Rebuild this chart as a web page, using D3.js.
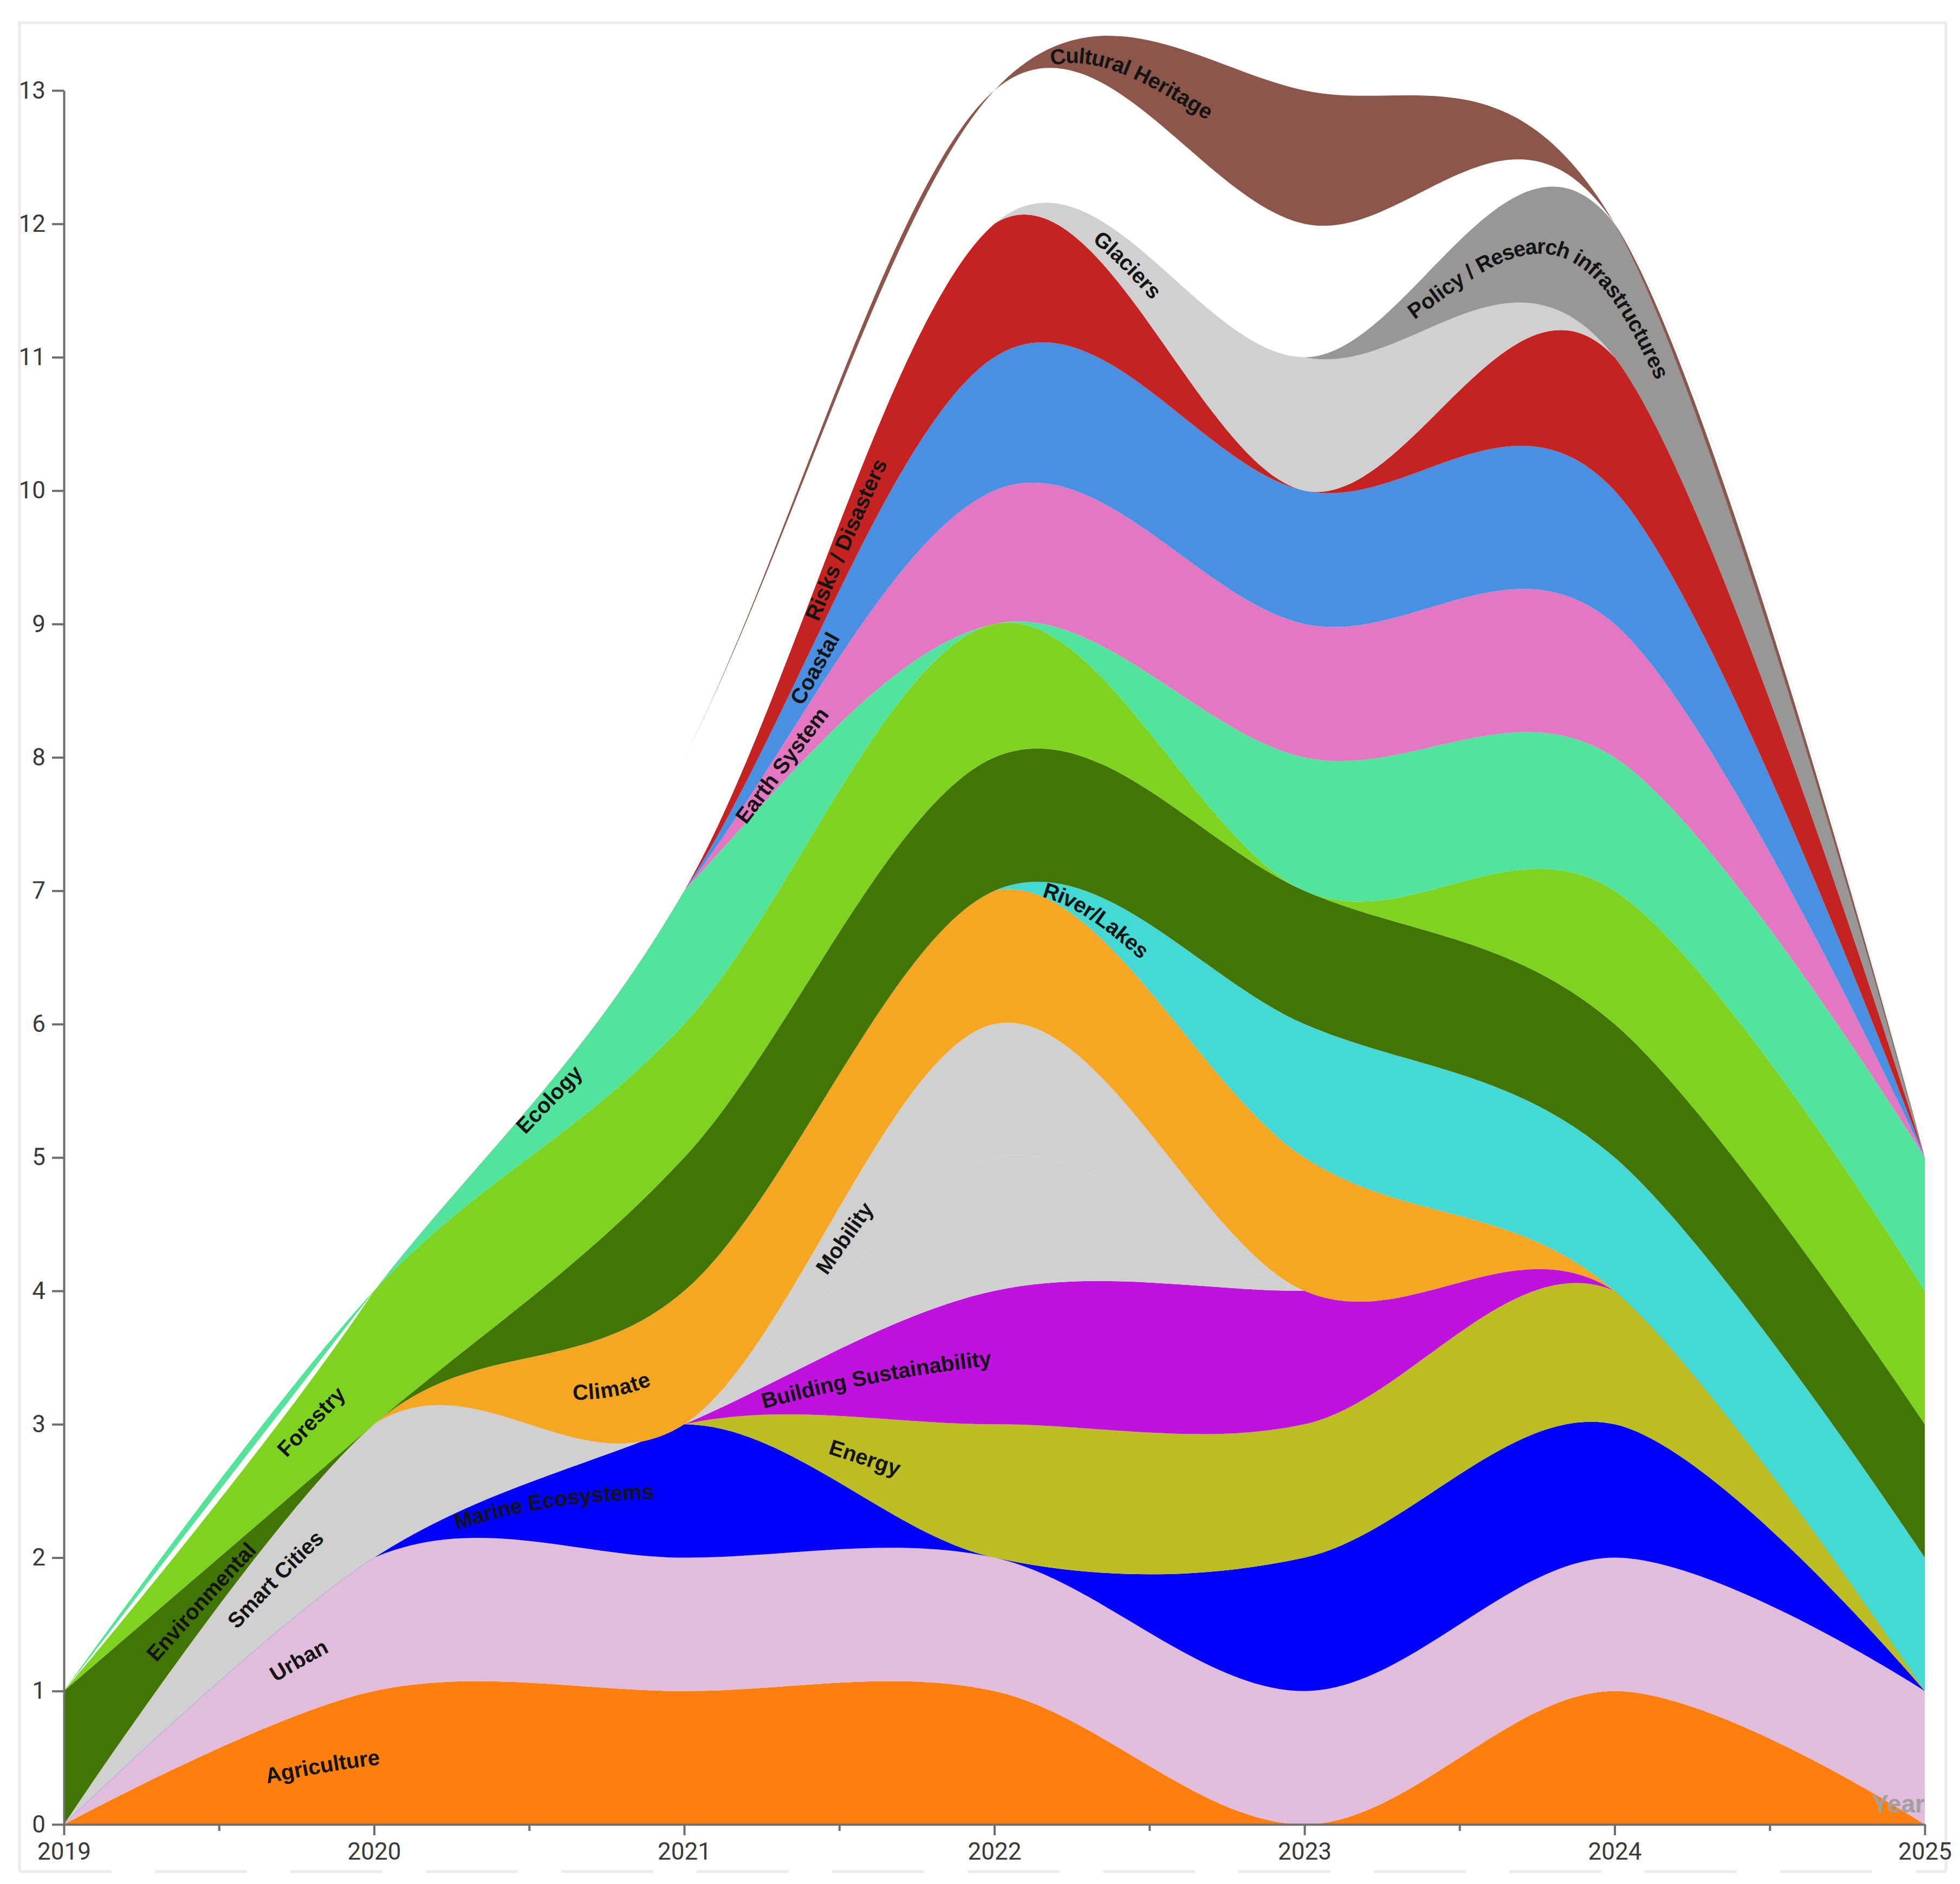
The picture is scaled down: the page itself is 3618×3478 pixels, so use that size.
<!DOCTYPE html>
<html>
<head>
<meta charset="utf-8">
<script src="https://cdn.jsdelivr.net/npm/d3@7"></script>
<style>
  html, body { margin: 0; padding: 0; background: #fff; }
  svg { display: block; }
  text { font-family: "Liberation Sans", Arial, sans-serif; }
</style>
</head>
<body>
<svg id="chart"></svg>
<script>
// Years on the x axis
const years = [2019, 2020, 2021, 2022, 2023, 2024, 2025];

// Streams, bottom to top (one value per year)
const categories = [
  "Agriculture", "Urban", "Marine Ecosystems", "Energy", "Building Sustainability",
  "Smart Cities", "Mobility", "Climate", "River/Lakes", "Environmental", "Forestry",
  "Ecology", "Earth System", "Coastal", "Risks / Disasters", "Glaciers",
  "Policy / Research infrastructures", "Other", "Cultural Heritage"
];

const agriculture      = [0, 1, 1, 1, 0, 1, 0];
const urban            = [0, 1, 1, 1, 1, 1, 1];
const marineEcosystems = [0, 0, 1, 0, 1, 1, 0];
const energy           = [0, 0, 0, 1, 1, 1, 0];
const buildingSustain  = [0, 0, 0, 1, 1, 0, 0];
const smartCities      = [0, 1, 0, 1, 0, 0, 0];
const mobility         = [0, 0, 0, 1, 0, 0, 0];
const climate          = [0, 0, 1, 1, 1, 0, 0];
const riverLakes       = [0, 0, 0, 0, 1, 1, 1];
const environmental    = [1, 0, 1, 1, 1, 1, 1];
const forestry         = [0, 1, 1, 1, 0, 1, 1];
const ecology          = [0, 0, 1, 0, 1, 1, 1];
const earthSystem      = [0, 0, 0, 1, 1, 1, 0];
const coastal          = [0, 0, 0, 1, 1, 1, 0];
const risksDisasters   = [0, 0, 0, 1, 0, 1, 0];
const glaciers         = [0, 0, 0, 0, 1, 0, 0];
const policyResearch   = [0, 0, 0, 0, 0, 1, 0];
const other            = [0, 0, 1, 1, 1, 0, 0];
const culturalHeritage = [0, 0, 0, 0, 1, 0, 0];

const series = [
  agriculture, urban, marineEcosystems, energy, buildingSustain, smartCities, mobility,
  climate, riverLakes, environmental, forestry, ecology, earthSystem, coastal,
  risksDisasters, glaciers, policyResearch, other, culturalHeritage
];

const yTicks = d3.range(0, 14);

// Colours per stream ("Other" is drawn white, unlabelled)
const colors = [
  "#ff7f0e", "#e1bddb", "#0000ff", "#bcbd22", "#c012de",
  "#d0d0d0", "#d0d0d0", "#f5a623", "#45d9d3", "#417505", "#7ed321",
  "#52e39c", "#e377c2", "#4a90e2", "#c52321", "#d0d0d0",
  "#999696", "#ffffff", "#8c564b"
];

// Year where each stream label starts along its centre line (null = no label)
const labelStart = [
  2019.65, 2019.67, 2020.26, 2021.47, 2021.25,
  2019.54, 2021.44, 2020.64, 2022.16, 2019.28, 2019.70,
  2020.47, 2021.18, 2021.36, 2021.41, 2022.33,
  2023.34, null, 2022.18
];

const width = 3618, height = 3478;
const svg = d3.select("#chart").attr("width", width).attr("height", height);

// Light frame round the chart
svg.append("path")
  .attr("d", "M36,3455 L36,42 L3592,42 L3592,3455")
  .attr("fill", "none")
  .attr("stroke", "#ebebeb")
  .attr("stroke-width", 5);
svg.append("line")
  .attr("x1", 36).attr("x2", 3592)
  .attr("y1", 3455).attr("y2", 3455)
  .attr("stroke", "#ebebeb")
  .attr("stroke-width", 5)
  .attr("stroke-dasharray", "170,80");

const x = d3.scaleLinear().domain([2019, 2025]).range([118, 3553]);
const y = d3.scaleLinear().domain([0, 13]).range([3368, 167]);

// Build the table for d3.stack
const table = years.map((yr, i) => {
  const row = { year: yr };
  categories.forEach((c, j) => { row[c] = series[j][i]; });
  return row;
});

const layers = d3.stack()
  .keys(categories)
  .order(d3.stackOrderNone)
  .offset(d3.stackOffsetNone)(table);

const curve = d3.curveCardinal.tension(0);

const area = d3.area()
  .curve(curve)
  .x(d => x(d.data.year))
  .y0(d => y(d[0]))
  .y1(d => y(d[1]));

const centerLine = d3.line()
  .curve(curve)
  .x(d => x(d.data.year))
  .y(d => y((d[0] + d[1]) / 2));

svg.append("g")
  .selectAll("path")
  .data(layers)
  .join("path")
  .attr("d", area)
  .attr("fill", (d, i) => colors[i]);

// Axes
svg.append("g")
  .attr("transform", `translate(${x(2019)},0)`)
  .call(d3.axisLeft(y).tickValues(yTicks).tickFormat(d3.format("d")).tickSize(22).tickSizeOuter(0).tickPadding(12));

svg.append("g")
  .attr("transform", `translate(0,${y(0)})`)
  .call(d3.axisBottom(x).tickValues(years).tickFormat(d3.format("d")).tickSize(20).tickSizeOuter(0).tickPadding(14));

// half-year minor ticks
svg.append("g")
  .attr("transform", `translate(0,${y(0)})`)
  .call(d3.axisBottom(x).tickValues(years.slice(1).map(v => v - 0.5)).tickFormat("").tickSize(12).tickSizeOuter(0))
  .call(g => g.select(".domain").remove());

svg.selectAll(".tick line").attr("stroke", "#6e6e6e").attr("stroke-width", 4);
svg.selectAll(".domain").attr("stroke", "#6e6e6e").attr("stroke-width", 4);
svg.selectAll(".tick text")
  .attr("font-size", 44)
  .attr("fill", "#3a3a3a")
  .style("font-family", "Roboto, 'Liberation Sans', Arial, sans-serif");

// Stream labels along the centre lines
const defs = svg.append("defs");
const labels = svg.append("g");

layers.forEach((layer, i) => {
  if (labelStart[i] == null) return;
  const id = "center-" + i;
  const p = defs.append("path").attr("id", id).attr("d", centerLine(layer));
  const node = p.node();
  const total = node.getTotalLength();
  const target = x(labelStart[i]);
  let lo = 0, hi = total;
  for (let k = 0; k < 40; k++) {
    const mid = (lo + hi) / 2;
    if (node.getPointAtLength(mid).x < target) lo = mid; else hi = mid;
  }
  labels.append("text")
    .attr("font-size", 40)
    .attr("font-weight", "bold")
    .attr("fill", "#141414")
    .attr("dy", "0.35em")
    .append("textPath")
    .attr("href", "#" + id)
    .attr("startOffset", lo)
    .text(categories[i]);
});

// Axis title
svg.append("text")
  .attr("x", x(2025))
  .attr("y", y(0) - 22)
  .attr("text-anchor", "end")
  .attr("font-size", 46)
  .attr("font-weight", "bold")
  .attr("fill", "#a0a0a0")
  .text("Year");
</script>
</body>
</html>
